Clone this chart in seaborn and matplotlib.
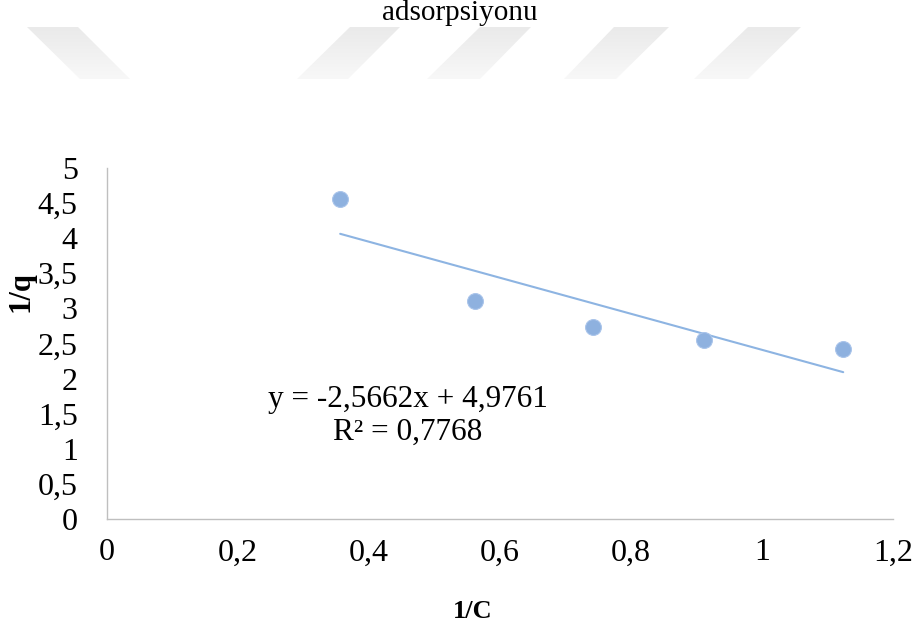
import matplotlib
matplotlib.use("Agg")
import matplotlib.pyplot as plt
from matplotlib.patches import Polygon
import seaborn as sns
import numpy as np
import pandas as pd

# ---- data ----
inv_c = [0.356, 0.562, 0.742, 0.911, 1.124]
inv_q = [4.554, 3.105, 2.74, 2.55, 2.42]
slope = -2.5662
intercept = 4.9761
r2_text = "0,7768"
x_ticks = [0, 0.2, 0.4, 0.6, 0.8, 1.0, 1.2]
x_tick_labels = ["0", "0,2", "0,4", "0,6", "0,8", "1", "1,2"]
y_ticks = [0, 0.5, 1, 1.5, 2, 2.5, 3, 3.5, 4, 4.5, 5]
y_tick_labels = ["0", "0,5", "1", "1,5", "2", "2,5", "3", "3,5", "4", "4,5", "5"]
title = "adsorpsiyonu"
x_label = "1/C"
y_label = "1/q"

sns.set_theme(style="white")
plt.rcParams["font.family"] = ["Liberation Serif", "DejaVu Serif"]
plt.rcParams["text.color"] = "black"

W, H = 922, 632
fig = plt.figure(figsize=(W / 100, H / 100), dpi=100)

# decorative faded watermark shapes (pixel coords, y from top)
bg = fig.add_axes([0, 0, 1, 1], zorder=-1)
bg.set_xlim(0, W)
bg.set_ylim(H, 0)
bg.axis("off")
shapes = [
    [(27, 27), (78, 27), (130, 79), (80, 79)],
    [(350, 27), (400, 27), (348, 79), (297, 79)],
    [(480, 27), (531, 27), (480, 79), (427, 79)],
    [(614, 27), (669, 27), (616, 79), (564, 79)],
    [(748, 27), (801, 27), (748, 79), (694, 79)],
]
grad = np.linspace(0, 1, 64).reshape(-1, 1)
cmap = matplotlib.colors.LinearSegmentedColormap.from_list("wm", ["#EAEAEA", "#F8F8F8"])
for poly in shapes:
    xs = [p[0] for p in poly]
    patch = Polygon(poly, closed=True, facecolor="none", edgecolor="none",
                    transform=bg.transData)
    bg.add_patch(patch)
    im = bg.imshow(grad, cmap=cmap, aspect="auto",
                   extent=(min(xs), max(xs), 79, 27), interpolation="bilinear")
    im.set_clip_path(patch)

ax = fig.add_axes([107 / W, 1 - 519 / H, (893 - 107) / W, (519 - 168) / H])
ax.set_facecolor("none")

df = pd.DataFrame({"x": inv_c, "y": inv_q})
xfit = np.array([min(inv_c), max(inv_c)])
fit = pd.DataFrame({"x": xfit, "y": slope * xfit + intercept})

sns.lineplot(data=fit, x="x", y="y", ax=ax, color="#8DB4E2", linewidth=1.5, zorder=2)
sns.scatterplot(data=df, x="x", y="y", ax=ax, s=130, color="#8EB1DF",
                edgecolor="#A9C4EA", linewidth=0.8, zorder=3)

ax.set_xlim(0, 1.2)
ax.set_ylim(0, 5)
ax.set_xticks(x_ticks)
ax.set_xticklabels(x_tick_labels)
ax.set_yticks(y_ticks)
ax.set_yticklabels(y_tick_labels)
ax.tick_params(axis="both", length=0, labelsize=23, colors="black")
ax.tick_params(axis="y", pad=21)
ax.tick_params(axis="x", pad=14)
ax.set_xlabel("")
ax.set_ylabel("")

for side in ["top", "right"]:
    ax.spines[side].set_visible(False)
for side in ["left", "bottom"]:
    ax.spines[side].set_color("#BFBFBF")
    ax.spines[side].set_linewidth(1.0)

fig.text(460 / W, 1 - 13 / H, title, ha="center", va="center", fontsize=21, color="black")
fig.text(473 / W, 1 - 612 / H, x_label, ha="center", va="center",
         fontsize=19, fontweight="bold", color="black")
fig.text(21 / W, 1 - 292 / H, y_label, ha="center", va="center",
         fontsize=22, fontweight="bold", rotation=90, color="black")

eq = f"y = {slope:.4f}x + {intercept:.4f}".replace(".", ",")
fig.text(408 / W, 1 - 416 / H, eq + "\nR² = " + r2_text, ha="center", va="center",
         multialignment="center", fontsize=22.5, linespacing=1.15, color="black")

fig.savefig("out.png", dpi=100)
